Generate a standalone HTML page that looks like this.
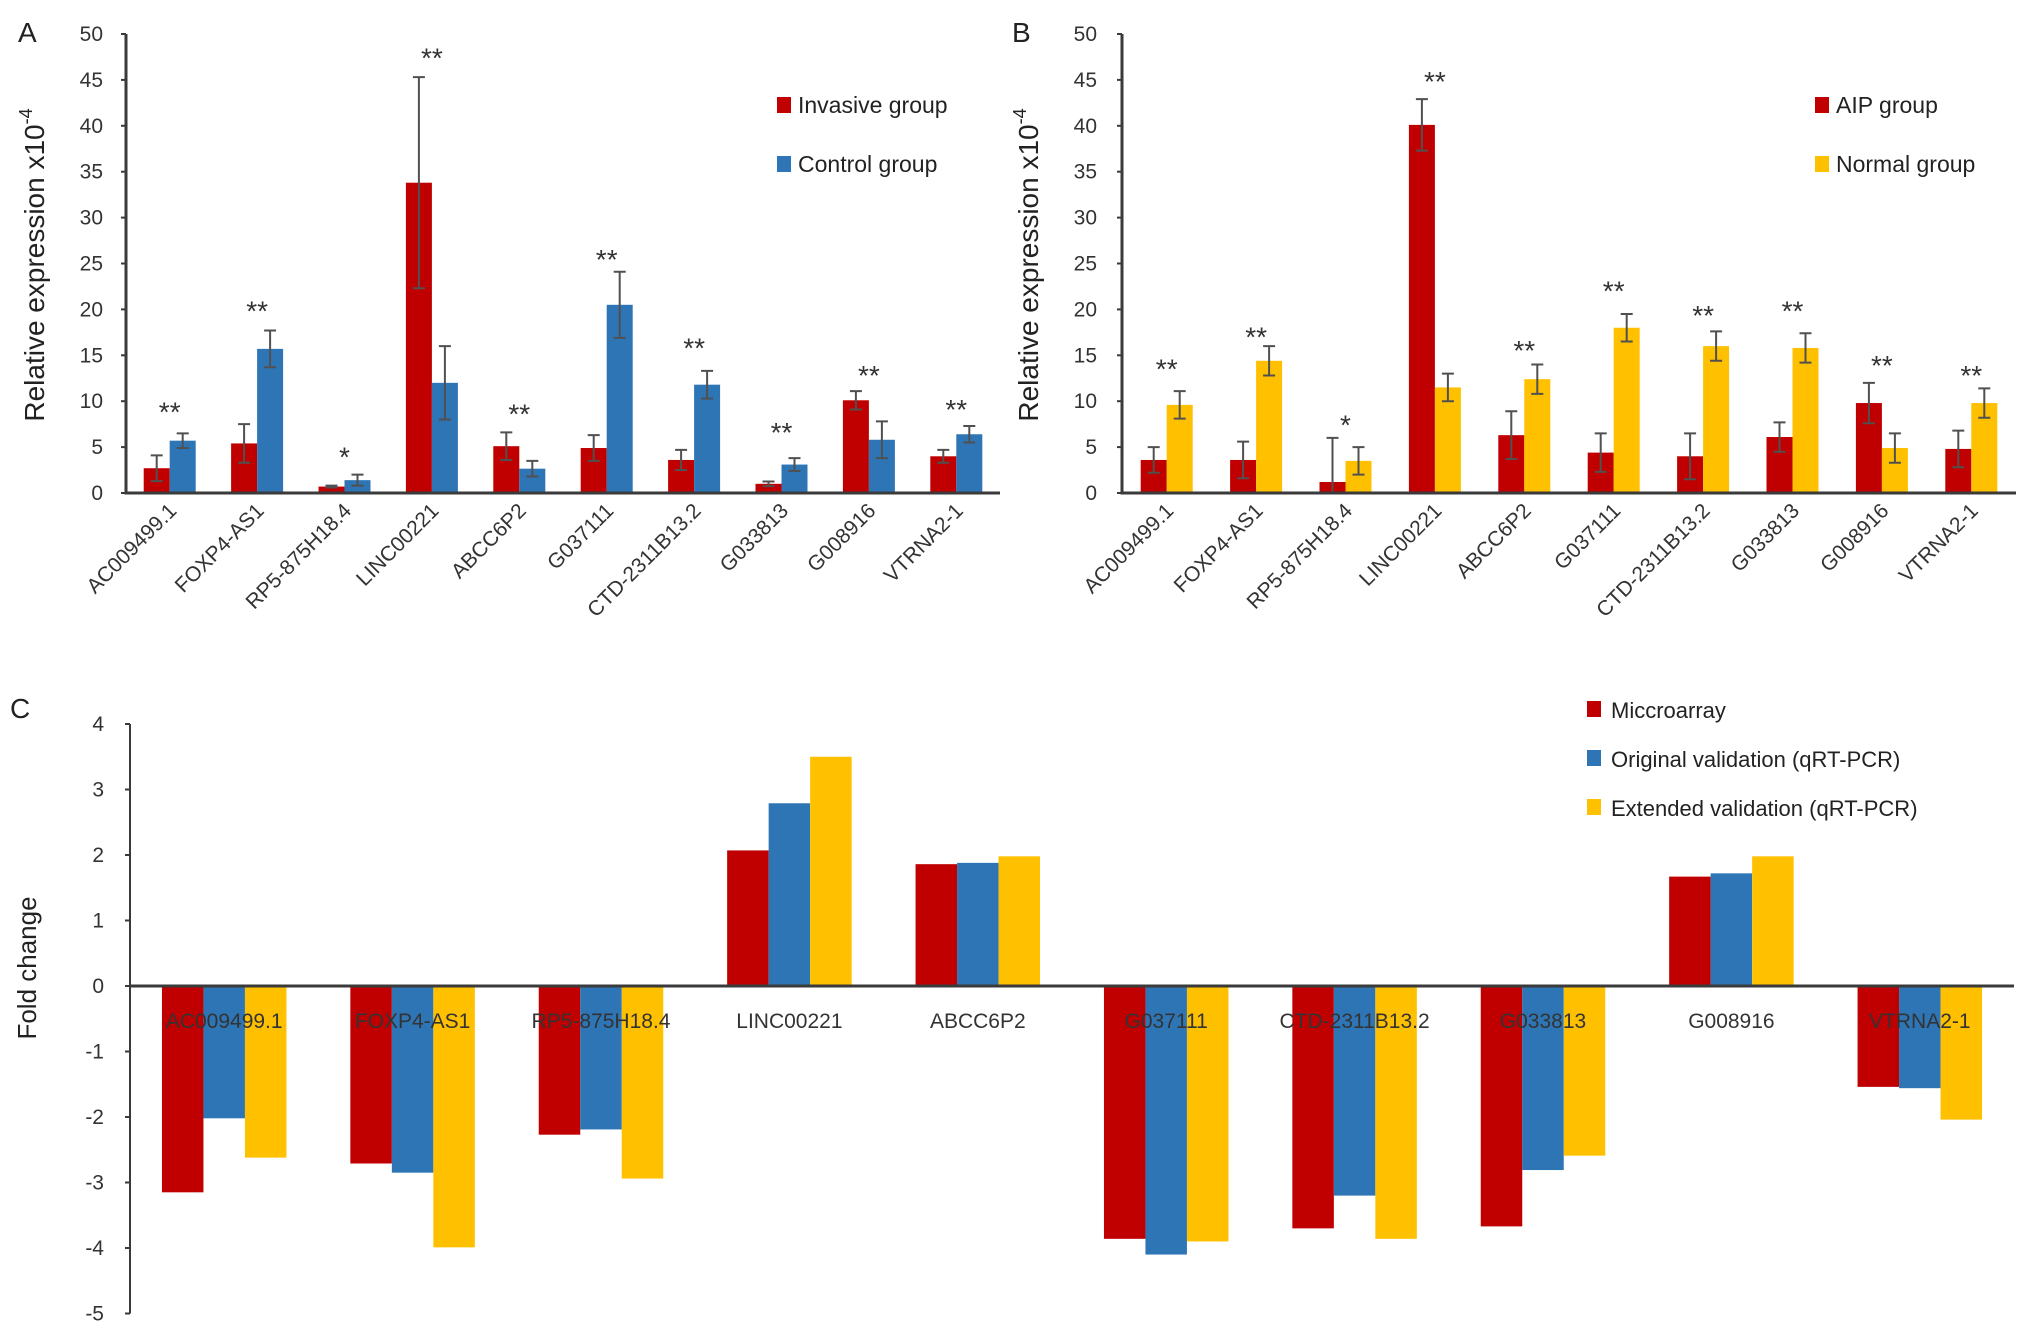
<!DOCTYPE html>
<html><head><meta charset="utf-8">
<style>
html,body{margin:0;padding:0;background:#fff;}
svg{display:block;font-family:"Liberation Sans",sans-serif;}
</style></head>
<body>
<svg id="fig" width="2031" height="1338" viewBox="0 0 2031 1338"></svg>
<script>
const categories=["AC009499.1","FOXP4-AS1","RP5-875H18.4","LINC00221","ABCC6P2","G037111","CTD-2311B13.2","G033813","G008916","VTRNA2-1"];
// Panel A
const aInvasive=[2.7,5.4,0.7,33.8,5.1,4.9,3.6,1.0,10.1,4.0];
const aInvasiveErr=[1.4,2.1,0.1,11.5,1.5,1.4,1.1,0.25,1.0,0.7];
const aControl=[5.7,15.7,1.4,12.0,2.65,20.5,11.8,3.1,5.8,6.4];
const aControlErr=[0.8,2.0,0.6,4.0,0.85,3.6,1.5,0.7,2.0,0.9];
const aStars=["**","**","*","**","**","**","**","**","**","**"];
const aStarLevel=[9.3,20.3,4.4,47.9,9.1,25.9,16.3,7.1,13.3,9.6];
// Panel B
const bAIP=[3.6,3.6,1.2,40.1,6.3,4.4,4.0,6.1,9.8,4.8];
const bAIPErr=[1.4,2.0,4.8,2.8,2.6,2.1,2.5,1.6,2.2,2.0];
const bNormal=[9.6,14.4,3.5,11.5,12.4,18.0,16.0,15.8,4.9,9.8];
const bNormalErr=[1.5,1.6,1.5,1.5,1.6,1.5,1.6,1.6,1.6,1.6];
const bStars=["**","**","*","**","**","**","**","**","**","**"];
const bStarLevel=[14.0,17.5,7.9,45.3,16.0,22.5,19.8,20.3,14.4,13.3];
// Panel C
const cMicro=[-3.15,-2.71,-2.27,2.07,1.86,-3.86,-3.70,-3.67,1.67,-1.54];
const cOriginal=[-2.02,-2.85,-2.19,2.79,1.88,-4.10,-3.20,-2.81,1.72,-1.56];
const cExtended=[-2.62,-3.99,-2.94,3.50,1.98,-3.90,-3.86,-2.59,1.98,-2.04];
const expTicks=[0,5,10,15,20,25,30,35,40,45,50];
const foldTicks=[4,3,2,1,0,-1,-2,-3,-4,-5];

const RED="#C00000",BLUE="#2E75B6",YEL="#FFC000",AX="#3a3a3a",ERR="#505050";
const svg=document.getElementById('fig');
const NS="http://www.w3.org/2000/svg";
function mk(tag,attrs,parent){const e=document.createElementNS(NS,tag);for(const k in attrs)e.setAttribute(k,attrs[k]);(parent||svg).appendChild(e);return e;}
function txt(s,attrs,parent){const e=mk('text',attrs,parent);e.textContent=s;return e;}

function expPanel(opt){
  const g=mk('g',{});
  
  
  const x0=opt.x0,x1=opt.x1,y0=493,y50=34;
  const yS=v=>y0-(v/50)*(y0-y50);
  const gw=(x1-x0)/categories.length;
  const cx=i=>x0+gw*(i+0.5);
  const bw=26;
  expTicks.forEach(t=>{
    const tl=txt(String(t),{x:opt.tickX,y:yS(t)+7,'text-anchor':'end','font-size':21,fill:'#333'},g);
    
    
    const tk=mk('line',{x1:x0-5,x2:x0,y1:yS(t),y2:yS(t),stroke:AX,'stroke-width':2},g);
    
    
  });
  const series=[[opt.s1,opt.e1,RED,-1],[opt.s2,opt.e2,opt.c2,0]];
  categories.forEach((c,i)=>{
    series.forEach(([vals,errs,col,off],si)=>{
      const bx=cx(i)+off*bw;
      const r=mk('rect',{x:bx,y:yS(vals[i]),width:bw,height:y0-yS(vals[i]),fill:col},g);
      
      
      const mx=bx+bw/2,hi=yS(vals[i]+errs[i]),lo=yS(Math.max(0,vals[i]-errs[i]));
      const eb=mk('path',{d:`M${mx},${hi}V${lo}M${mx-6},${hi}H${mx+6}M${mx-6},${lo}H${mx+6}`,stroke:ERR,'stroke-width':2,fill:'none'},g);
      
      
    });
    const st=txt(opt.stars[i],{x:cx(i),y:yS(opt.starLevel[i])+14,'text-anchor':'middle','font-size':28,fill:'#333'},g);
    
    
    const lb=txt(c,{x:0,y:0,'text-anchor':'end','font-size':21,fill:'#333',transform:`translate(${cx(i)+8},${512}) rotate(-45)`},g);
    
    
  });
  const ax=mk('path',{d:`M${x0},${y50}V${y0}H${x1}`,stroke:AX,'stroke-width':3,fill:'none'},g);
  
  
  const yt=txt('',{x:0,y:0,'text-anchor':'middle','font-size':28,fill:'#222',transform:`translate(${opt.titleX},265) rotate(-90)`},g);
  
  
  yt.innerHTML='Relative expression x10<tspan dy="-12" font-size="18">-4</tspan>';
  const pl=txt(opt.letter,{x:opt.letterX,y:42,'font-size':28,fill:'#222'},g);
  
  
  [[opt.n1Label,RED,113],[opt.n2Label,opt.c2,172]].forEach(([l,col,yy])=>{
    const le=mk('g',{},g);
    
    
    mk('rect',{x:opt.legX,y:yy-16,width:14,height:16,fill:col},le);
    txt(l,{x:opt.legX+21,y:yy,'font-size':23,fill:'#222'},le);
  });
}
expPanel({name:'panel-a-chart',x0:126,x1:1000,tickX:103,titleX:44,letter:'A',letterX:18,
  s1:aInvasive,e1:aInvasiveErr,s2:aControl,e2:aControlErr,c2:BLUE,n1:'invasive',n2:'control',
  n1Label:'Invasive group',n2Label:'Control group',legX:777,stars:aStars,starLevel:aStarLevel});
expPanel({name:'panel-b-chart',x0:1122,x1:2016,tickX:1097,titleX:1038,letter:'B',letterX:1012,
  s1:bAIP,e1:bAIPErr,s2:bNormal,e2:bNormalErr,c2:YEL,n1:'aip',n2:'normal',
  n1Label:'AIP group',n2Label:'Normal group',legX:1815,stars:bStars,starLevel:bStarLevel});

(function(){
  const g=mk('g',{});
  
  
  const x0=130,x1=2014,yZero=986,unit=65.5;
  const yS=v=>yZero-v*unit;
  const gw=(x1-x0)/categories.length;
  const cx=i=>x0+gw*(i+0.5);
  const bw=41.5;
  foldTicks.forEach(t=>{
    const tl=txt(String(t),{x:104,y:yS(t)+7,'text-anchor':'end','font-size':21,fill:'#333'},g);
    
    
    const tk=mk('line',{x1:x0-5,x2:x0,y1:yS(t),y2:yS(t),stroke:AX,'stroke-width':2},g);
    
    
  });
  const series=[[cMicro,RED,'microarray'],[cOriginal,BLUE,'original'],[cExtended,YEL,'extended']];
  categories.forEach((c,i)=>{
    series.forEach(([vals,col,n],si)=>{
      const v=vals[i],bx=cx(i)+(si-1.5)*bw;
      const r=mk('rect',{x:bx,y:Math.min(yS(v),yZero),width:bw,height:Math.abs(v)*unit,fill:col},g);
      
      
    });
  });
  categories.forEach((c,i)=>{
    const lb=txt(c,{x:cx(i),y:1028,'text-anchor':'middle','font-size':21,fill:'#333'},g);
    
    
  });
  const ya=mk('line',{x1:x0,x2:x0,y1:yS(4),y2:yS(-5),stroke:AX,'stroke-width':2},g);
  
  
  const xa=mk('line',{x1:x0,x2:x1,y1:yZero,y2:yZero,stroke:AX,'stroke-width':3},g);
  
  
  const yt=txt('Fold change',{x:0,y:0,'text-anchor':'middle','font-size':26,fill:'#222',transform:'translate(36,968) rotate(-90)'},g);
  
  
  const pl=txt('C',{x:10,y:718,'font-size':28,fill:'#222'},g);
  
  
  [['Miccroarray',RED,718],['Original validation (qRT-PCR)',BLUE,767],['Extended validation (qRT-PCR)',YEL,816]].forEach(([l,col,yy])=>{
    const le=mk('g',{},g);
    
    
    mk('rect',{x:1587,y:yy-17,width:14,height:16,fill:col},le);
    txt(l,{x:1611,y:yy,'font-size':22,fill:'#222'},le);
  });
})();
</script>
</body></html>
